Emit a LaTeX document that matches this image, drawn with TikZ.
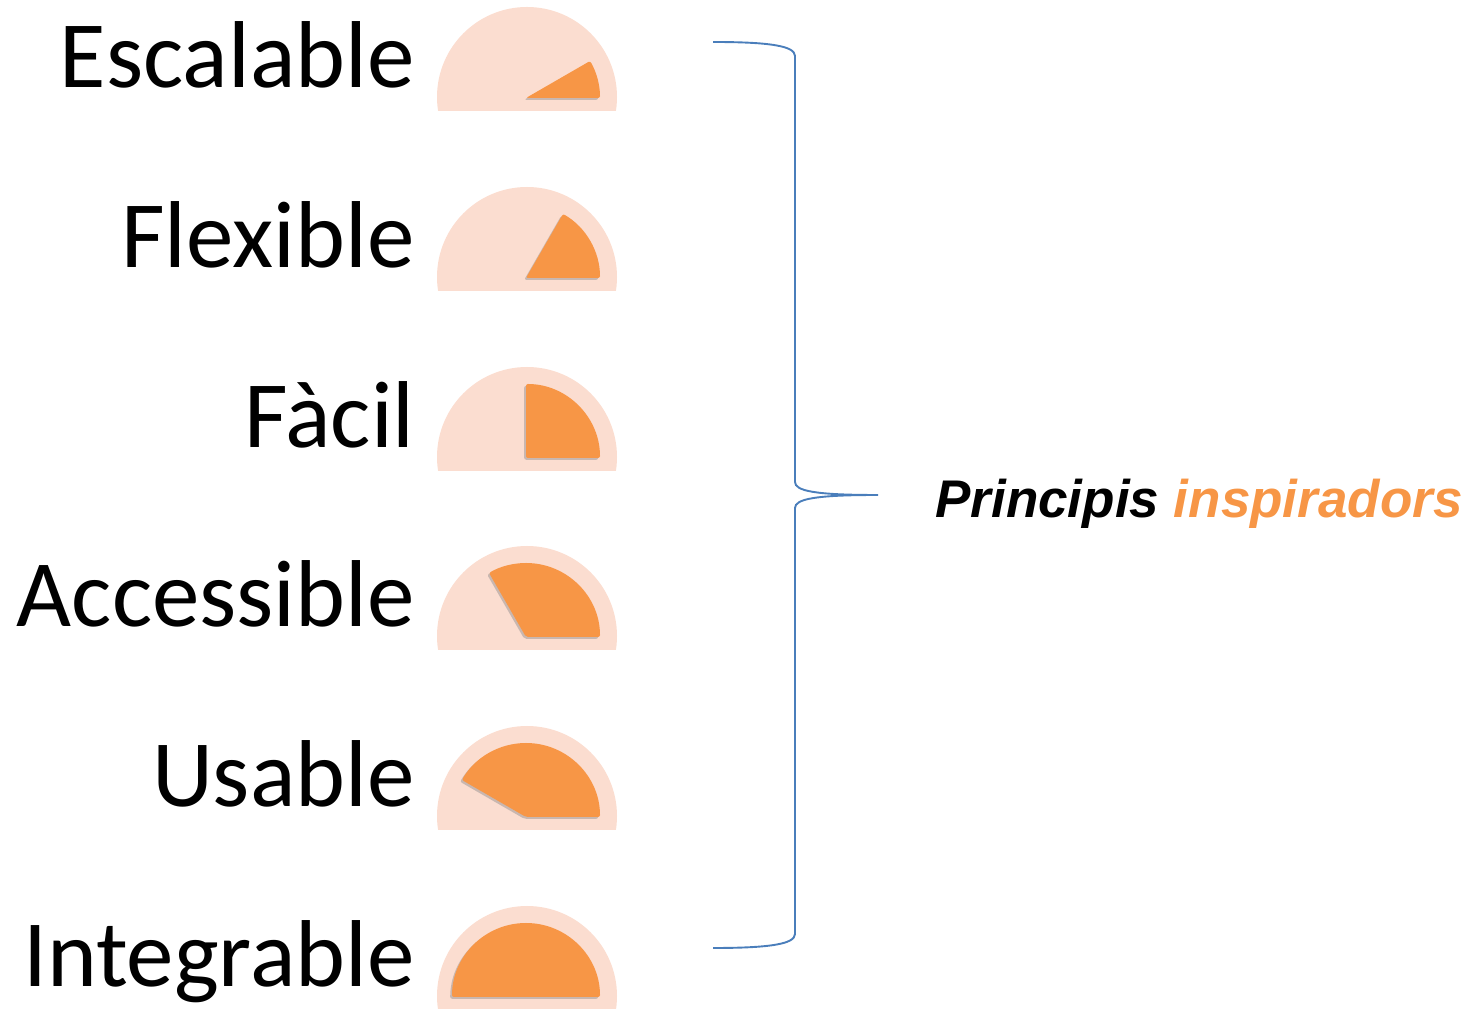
\documentclass[tikz,border=0pt]{standalone}
\usepackage{fontspec}
\setmainfont{Carlito}
\newfontfamily\arialfont{Liberation Sans}
\usetikzlibrary{shadows}
\definecolor{gaugeorange}{HTML}{F79646}
\definecolor{gaugelight}{HTML}{FBDDD0}
\definecolor{braceblue}{HTML}{4A7EBB}

\begin{document}
\begin{tikzpicture}[x=1pt,y=1pt, thick]
                \tikzstyle{every node}=[inner sep=0pt]
                \tikzstyle{principi}=[font=\fontsize{95}{100}\selectfont, anchor=base east]
                \tikzstyle{dial}=[fill=gaugelight]
                \tikzstyle{needle}=[fill=gaugeorange, rounded corners=2pt, drop shadow={shadow xshift=-1.8pt,shadow yshift=-1.8pt,opacity=0.4}]
                \tikzstyle{brace}=[draw=braceblue, line width=1.9pt]
                \useasboundingbox (0,0) rectangle (1470,1009);
                \foreach \name/\txt/\a/\y in {esc/Escalable/30/911, flex/Flexible/60/731, facil/Fàcil/90/551, acc/Accessible/120/372, usa/Usable/150/192, integ/Integrable/180/12}
                    {
                        \begin{scope}
                            \clip (430,\y-13) rectangle (625,\y+100);
                            \fill[dial] (527,\y+1) circle [radius=90];
                        \end{scope}
                        \fill[needle] (526,\y) -- ++(0:74) arc [start angle=0,end angle=\a,radius=74] -- cycle;
                        \node[principi] (\name) at (415,\y+10) {\txt};
                    }
                \coordinate (btop) at (713,967);
                \coordinate (btip) at (878,514);
                \coordinate (bbot) at (713,61);
                \node[anchor=base west, font=\arialfont\bfseries\itshape\fontsize{53}{60}\selectfont] (princ) at (935,491) {Principis \textcolor{gaugeorange}{inspiradors}};
                \draw[brace] (btop) .. controls (770,967) and (795,963) .. (795,953) -- (795,527) .. controls (795,518) and (815,514) .. (btip) .. controls (815,514) and (795,510) .. (795,501) -- (795,75) .. controls (795,65) and (770,61) .. (bbot);
            \end{tikzpicture}
\end{document}
